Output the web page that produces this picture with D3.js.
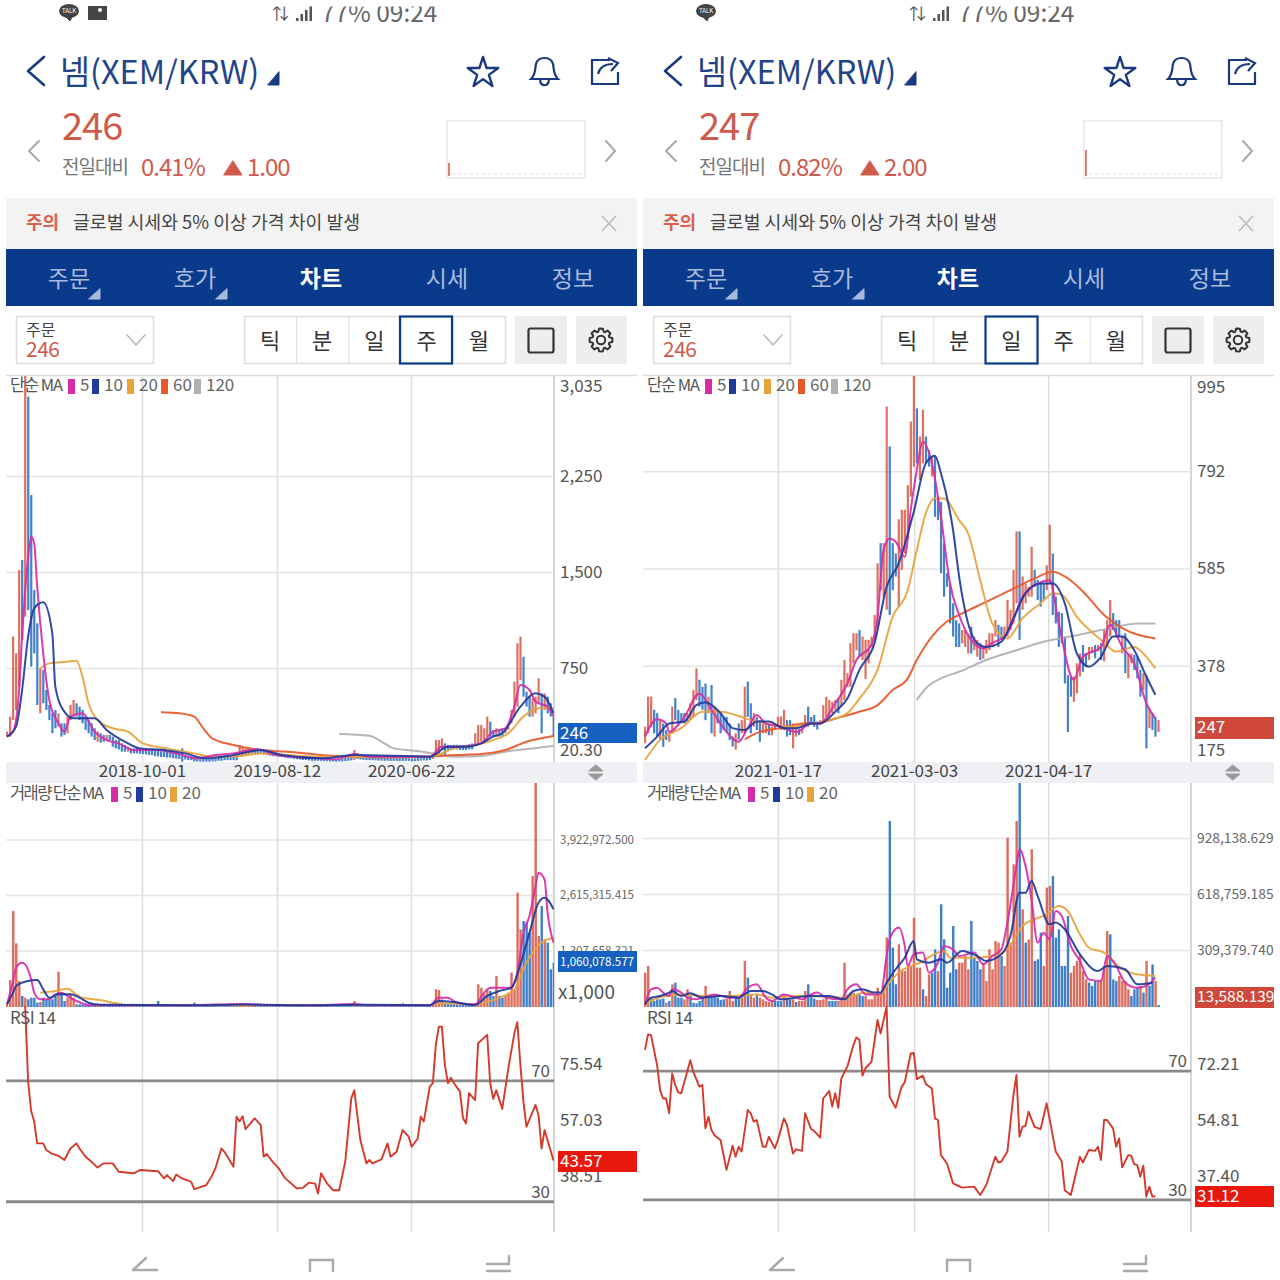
<!DOCTYPE html>
<html><head><meta charset="utf-8">
<script src="https://cdn.jsdelivr.net/npm/d3@7/dist/d3.min.js"></script>
<style>html,body{margin:0;padding:0;background:#fff}svg{display:block}text{font-family:"Noto Sans CJK KR","Noto Sans",sans-serif}</style>
</head><body><svg id="c" width="1280" height="1280"></svg>
<script>
// ===== Left phone: weekly chart =====
const lLow=[214,214,344,422,604,969,1151,1203,760,865,
461,396,474,422,344,240,279,292,214,227,
240,344,370,370,344,318,266,240,214,187,
174,167,174,187,187,135,122,114,96,96,
96,83,83,83,80,78,75,70,70,62,
60,55,55,50,50,45,42,40,18,35,
30,30,20,20,18,18,18,18,20,20,
25,25,30,30,30,30,30,70,70,70,
75,75,80,82,85,75,70,65,62,60,
58,55,50,45,45,40,38,35,32,30,
28,25,25,25,24,22,22,20,20,18,
20,20,22,25,28,31,40,35,32,30,
30,30,28,26,26,25,25,24,24,24,
24,24,24,24,22,22,24,26,28,28,
30,40,70,70,109,70,109,109,115,115,
109,109,109,115,115,148,161,174,174,214,
214,214,214,214,214,240,268,318,370,448,
656,526,448,370,370,396,474,240,422,396,370,214];
const lHigh=[253,370,995,865,1516,1594,3078,2870,2101,1359,
1099,747,734,578,461,396,422,396,318,318,
370,461,500,474,448,422,370,344,318,279,
253,240,227,227,227,214,187,187,161,148,
135,122,122,125,120,118,115,115,110,109,
112,100,100,95,92,88,85,80,122,70,
65,60,50,50,45,40,40,38,40,42,
50,50,55,55,55,60,60,148,125,120,
122,120,122,118,115,110,105,100,95,90,
85,80,78,75,72,70,65,60,58,55,
55,50,48,48,45,45,42,42,40,40,
38,42,48,55,62,109,83,70,62,57,
57,55,52,50,50,48,48,47,46,46,
46,50,48,45,42,44,46,46,48,50,
55,80,187,187,200,161,150,148,150,150,
148,148,150,155,160,240,305,305,279,370,
331,266,279,266,279,279,292,422,643,943,
995,838,565,526,513,526,669,552,552,526,474,370];
const lDir="rrrrrbrbbb brbbbbbrbb rrrbbbbbbb rbbrbbbbbb rbbbbbbbbb bbbbbbbbbb bbbbbbbbbb bbbbbbbrrr rrbbbbbbbb bbbbbbbbbb bbbbbbbbbb bbbbbrbbbb bbbbbbbbbb bbbbbbbbbb brrrrbbbbb bbbbbrrrrr bbrbbrrrrr rbbbrrrbrbbb";
const lVol=[39,612,2237,1476,589,236,196,157,196,196,
78,94,196,157,157,157,236,809,314,118,
196,275,196,39,40,35,32,30,28,25,
25,24,24,24,22,22,22,20,20,20,
20,20,20,20,20,20,20,20,20,24,
118,24,20,20,18,18,18,16,16,16,
16,16,78,24,20,20,18,18,18,16,
16,16,16,16,16,16,16,55,40,35,
30,30,28,28,25,25,22,22,20,20,
18,18,18,16,16,16,16,16,16,16,
16,16,16,16,16,16,16,16,16,16,
16,16,16,16,24,118,40,30,24,20,
20,18,18,16,16,16,16,16,16,16,
16,63,30,24,20,18,18,18,20,22,
24,39,393,377,157,79,63,55,47,40,
40,40,40,40,50,63,510,432,275,393,
353,236,707,236,196,236,314,785,393,2669,
1806,2002,1963,1727,3062,5260,1649,2355,1570,1492,864,1021];
const lMa5=[[0,214],[2,253],[4,578],[5,995],[7,1620],[8,1776],[9,1724],[10,1385],[12,865],[14,500],[17,318],[19,253],[21,370],[25,396],[29,253],[33,187],[37,161],[42,109],[50,109],[56,83],[63,44],[69,70],[75,83],[83,115],[89,70],[97,52],[104,44],[109,36],[115,78],[120,57],[140,57],[144,135],[150,135],[157,161],[161,253],[165,279],[168,448],[170,617],[173,578],[175,487],[179,448],[181,370]];
const lMa10=[[0,214],[3,292],[5,578],[7,995],[9,1216],[12,1263],[15,1021],[16,604],[19,409],[22,357],[29,357],[33,266],[39,174],[44,122],[52,109],[59,83],[66,44],[75,70],[84,109],[91,70],[104,44],[115,70],[140,57],[146,135],[152,135],[157,161],[161,214],[164,240],[170,448],[175,552],[178,526],[181,396]];
const lMa20=[[11,747],[14,786],[20,799],[23,807],[25,682],[27,474],[30,344],[35,279],[40,253],[45,161],[53,122],[62,83],[68,57],[77,62],[84,83],[93,70],[104,57],[140,57],[148,122],[155,148],[161,187],[166,240],[171,370],[176,435],[181,435]];
const lMa60=[[51,404],[57,396],[62,370],[65,279],[68,200],[75,148],[84,109],[93,96],[104,70],[115,57],[126,52],[140,57],[148,70],[157,78],[165,109],[172,174],[181,219]];
const lMa120=[[110,234],[120,221],[125,161],[128,122],[135,104],[141,83],[148,57],[157,62],[165,96],[174,122],[181,141]];
const lVolMa5=[[0,39],[2,589],[3,903],[5,1020],[6,981],[8,628],[9,314],[11,157],[14,157],[16,275],[18,314],[20,236],[23,118],[27,24],[31,16],[60,16],[78,50],[85,25],[100,16],[115,45],[120,20],[140,20],[143,196],[146,196],[149,78],[155,39],[158,314],[160,432],[164,432],[167,432],[169,785],[171,1727],[173,2120],[175,2826],[176,3140],[178,2983],[179,2198],[181,1492]];
const lVolMa10=[[0,39],[2,314],[3,471],[7,589],[10,612],[12,393],[14,196],[17,275],[21,275],[24,196],[27,78],[31,31],[60,16],[80,35],[100,16],[118,30],[140,16],[143,118],[148,94],[155,24],[159,236],[163,353],[167,432],[170,981],[173,1727],[176,2434],[178,2551],[181,2277]];
const lVolMa20=[[11,314],[16,353],[20,408],[23,275],[25,196],[31,141],[36,63],[40,16],[60,16],[80,20],[100,16],[140,24],[143,63],[154,39],[163,196],[168,393],[172,1020],[177,1492],[181,1609]];
const lRsi=[[6,95],[7,69.7],[8,60],[9,56.5],[10,49.3],[12,49.3],[13,47.1],[15,45.8],[17,45.2],[19,43.8],[21,47.6],[23,49.3],[24,47.6],[26,44.9],[28,43.2],[30,41.3],[32,42.7],[35,42.7],[37,39.9],[42,39.4],[44,40.5],[50,40.1],[52,37.7],[53,38.8],[55,36.8],[56,39],[58,37.7],[61,36.6],[62,34.2],[66,35.5],[68,38.8],[69,41],[71,47.6],[72,46.5],[75,41.6],[76,58.1],[77,56.5],[78,58.3],[79,54],[82,57.6],[84,55.4],[85,44.9],[86,45.8],[88,43.2],[90,41],[92,37.9],[96,34.4],[98,34.6],[100,36.3],[102,36],[103,32.7],[104,39.4],[106,36],[108,33.8],[110,33.8],[112,43.2],[114,64.2],[115,66.9],[117,50.4],[119,42.7],[120,43.8],[121,42.7],[124,44],[126,49.3],[127,44.9],[129,46.5],[131,53.7],[133,51.5],[134,48.2],[136,50.9],[137,58.1],[138,56.5],[140,68.1],[141,69.2],[142,81.9],[143,87.9],[144,87.9],[145,75.2],[146,69.2],[147,71],[148,69.2],[150,66.4],[151,57.6],[152,55.9],[153,65.9],[155,63.6],[156,82.4],[159,85.2],[160,69.2],[161,64],[162,66.9],[164,60.7],[166,74.1],[168,85.7],[169,89.4],[170,75.2],[171,63.1],[172,54.8],[175,62],[176,58.7],[177,47.6],[178,53.7],[181,43.57]];
const lPriceTicks=[20.3,750,1500,2250,3035];
const lPriceLabels=["20.30","750","1,500","2,250","3,035"];
const lVolTicks=[1307.658,2615.315,3922.972];
const lVolLabels=["1,307,658.321","2,615,315.415","3,922,972.500"];
const lRsiTicks=[38.51,57.03,75.54];
const lRsiLabels=["38.51","57.03","75.54"];
const lDateIdx=[44.7,89.4,133.8];
const lDateLabels=["2018-10-01","2019-08-12","2020-06-22"];

// ===== Right phone: daily chart =====
const rLow=[213,234,248,234,227,220,205,220,216,234,
262,255,255,255,255,262,269,305,291,284,
262,277,234,227,255,234,241,234,220,206,
199,220,234,234,269,234,248,241,216,234,
234,230,230,241,248,241,241,227,230,202,
227,230,234,248,248,255,248,242,252,255,
269,269,277,284,277,291,305,333,333,383,
411,397,390,350,383,418,433,461,539,525,
497,486,539,568,504,582,617,653,738,802,
809,773,809,809,802,781,695,688,575,525,
546,468,440,418,418,426,418,404,404,411,
397,390,393,404,411,418,440,418,433,440,
440,454,468,511,433,497,511,525,525,546,
518,504,518,539,553,486,468,418,426,340,
237,312,301,319,355,365,376,390,404,394,
408,390,387,418,440,454,440,440,404,362,
351,383,369,351,312,326,202,245,241,227,237];
const rHigh=[248,312,312,284,277,262,255,241,234,291,
309,284,277,277,277,298,326,372,348,333,
340,312,337,291,284,277,269,269,255,227,
234,255,262,333,344,298,277,269,262,255,
255,252,248,255,269,270,284,262,262,255,
248,244,255,273,291,269,273,259,262,294,
312,305,301,305,309,348,390,362,426,447,
447,454,440,433,433,440,486,596,639,639,
930,845,639,617,690,710,710,762,898,1010,
926,866,923,866,837,823,823,738,727,639,
575,553,511,475,468,454,454,447,461,440,
433,426,418,433,447,447,475,465,461,461,
518,497,582,664,664,568,553,546,631,582,
561,553,553,592,678,617,525,493,490,440,
358,355,355,383,404,422,404,418,418,422,
422,426,454,475,518,490,475,475,440,447,
404,404,401,397,369,362,358,287,277,269,262];
const rDir="rrrbbrbbrr bbbbrrrrbb brbrbbbbbb rbrrbbrbbr rbrrrrrbbr rbrrbbbbrr rrrrbrrrrr rbrrrrrrbr rbbbrrrrrr brrbbrbbbb bbbbbrrrbr rbrrrrrbbr rrrrbrrrrb bbbrrbbbbb bbrrrbbrrb rbrrrbbbrb rrbbbrbrbbr";
const rVol=[184,221,46,28,37,37,41,18,28,120,
129,46,46,37,92,55,18,15,28,46,
111,55,55,55,46,33,37,41,83,28,
55,46,46,249,157,64,46,64,46,37,
28,22,28,28,28,28,64,37,37,37,
22,28,28,83,120,55,41,33,33,37,
46,28,28,28,28,46,239,64,74,74,
64,64,55,55,37,37,55,101,55,111,
378,1022,322,120,341,193,193,212,221,488,
212,212,92,55,175,184,313,193,562,368,
101,184,442,203,239,239,276,203,470,267,
249,203,239,138,313,203,359,350,276,221,
930,350,783,1022,1234,534,350,368,866,249,
258,405,221,654,663,718,378,424,221,221,
497,184,221,249,286,193,147,129,111,138,
138,147,221,414,396,147,138,166,138,138,
92,55,92,101,111,74,249,111,230,138,6];
const rVolDir="rrbbbbbrbr bbbrrbbbbb rbbbbbbrrr bbrrbrrbrr rrrbbbrbbr brrrbbbrrr rbbbrrrrrr rbbrrrrrrr rbbbrrrrrr rrbrrbbrbb bbbbrrrrbb bbrrrrrrbr rrrrbrbrrb bbrrrbbbbb brrrrrrbbb rrrrbbbrrr rbbbrbrbbr".replace(/ /g,"");
const rMa5=[[0,227],[4,264],[7,255],[8,237],[13,269],[18,319],[22,284],[27,237],[31,216],[34,245],[37,273],[40,255],[45,248],[50,237],[55,255],[58,255],[63,298],[67,340],[70,390],[75,422],[77,482],[79,624],[81,649],[83,642],[86,610],[88,710],[90,795],[92,855],[95,809],[98,695],[101,553],[104,486],[108,433],[112,415],[115,426],[120,447],[125,525],[130,553],[134,560],[137,468],[142,348],[145,397],[151,418],[154,465],[158,418],[162,383],[166,298],[169,266]];
const rMa10=[[0,202],[4,227],[8,255],[13,259],[17,294],[20,300],[25,277],[29,245],[33,241],[37,259],[41,259],[46,245],[50,245],[55,255],[58,255],[63,280],[67,308],[71,369],[76,426],[80,546],[84,596],[89,706],[93,809],[96,825],[98,788],[102,667],[104,568],[107,468],[110,426],[113,418],[118,429],[122,479],[126,532],[131,553],[135,553],[139,511],[143,404],[147,376],[151,397],[155,440],[158,440],[162,411],[166,355],[169,316]];
const rMa20=[[0,177],[5,220],[12,245],[19,280],[25,280],[30,273],[35,262],[40,255],[48,248],[56,255],[61,262],[67,277],[71,308],[77,369],[82,482],[87,539],[90,624],[93,703],[96,734],[99,734],[104,688],[107,660],[111,560],[115,468],[120,436],[125,479],[131,511],[135,532],[138,529],[143,482],[151,433],[156,408],[162,418],[165,404],[169,372]];
const rMa60=[[33,221],[38,237],[45,245],[51,254],[58,257],[65,269],[71,280],[77,294],[82,326],[87,351],[90,390],[95,440],[100,472],[104,486],[113,514],[121,539],[129,564],[135,578],[139,568],[145,536],[152,486],[158,458],[169,436]];
const rMa120=[[90,305],[93,330],[98,351],[104,365],[113,390],[123,411],[132,429],[143,443],[154,458],[163,468],[169,468]];
const rVolMa5=[[0,9],[2,92],[4,101],[6,74],[8,55],[9,92],[12,74],[14,46],[17,37],[19,46],[23,64],[28,46],[31,46],[34,101],[37,120],[40,46],[42,28],[46,64],[50,46],[52,37],[55,64],[57,74],[60,46],[65,37],[67,92],[70,120],[73,64],[78,64],[80,276],[81,368],[84,433],[86,332],[87,221],[89,286],[92,295],[94,184],[97,239],[99,332],[102,313],[104,276],[109,295],[112,230],[115,276],[118,313],[120,460],[123,774],[124,866],[126,774],[128,589],[130,350],[132,405],[134,368],[136,525],[138,497],[141,332],[144,249],[147,147],[151,138],[153,276],[156,221],[159,129],[163,101],[166,111],[169,157]];
const rVolMa10=[[0,9],[2,46],[5,55],[8,74],[9,83],[12,55],[15,70],[19,46],[25,55],[31,46],[35,83],[39,83],[42,64],[45,37],[54,55],[61,55],[66,37],[69,83],[72,92],[76,74],[78,74],[80,129],[83,203],[86,267],[89,359],[90,258],[94,239],[98,258],[100,239],[105,304],[110,276],[113,249],[118,286],[121,387],[124,626],[126,626],[128,691],[130,608],[134,451],[136,461],[139,424],[144,286],[150,193],[153,221],[159,203],[163,120],[168,129]];
const rVolMa20=[[0,9],[3,37],[7,55],[13,64],[19,55],[28,55],[37,64],[42,46],[50,55],[58,52],[66,46],[73,74],[78,55],[80,111],[84,184],[91,239],[99,304],[101,267],[109,267],[115,276],[120,313],[125,442],[133,507],[137,553],[140,525],[144,396],[147,322],[152,295],[158,203],[163,175],[169,166]];
const rRsi=[[0,76.6],[1,81.4],[2,81.2],[4,71.9],[5,64.1],[6,61.5],[7,61.5],[8,56.9],[9,69.3],[10,65.7],[11,63.4],[12,63.1],[15,73.4],[16,69.8],[18,65.2],[19,65.7],[20,52.2],[21,55.8],[22,51.7],[23,50.1],[25,48.6],[27,39.3],[29,46.8],[30,43.4],[31,46.5],[32,45],[34,57.9],[35,56.9],[36,54.3],[37,54.8],[39,46.5],[40,46.5],[41,49.6],[43,46],[44,48.6],[46,55.3],[47,53.3],[49,44.4],[50,45.7],[52,45.2],[53,56.9],[55,52],[56,51.4],[58,49.3],[59,61.5],[61,63.8],[62,59],[63,63.1],[64,58.6],[65,67.7],[67,71.4],[69,78.1],[70,80.5],[71,79.7],[72,68.6],[73,70.9],[75,72.9],[77,85.9],[78,81.7],[80,90],[81,62],[83,58.6],[85,65.2],[86,66.5],[88,75.5],[89,75.7],[90,67.5],[92,68.6],[93,66],[95,64.6],[96,55.3],[97,54.8],[98,43.9],[100,41.3],[102,35.1],[105,33.8],[109,34.1],[111,31.5],[113,34.6],[116,43.4],[117,41.6],[118,41.9],[120,45],[122,62.6],[123,68.8],[124,49.6],[125,52.7],[126,53],[127,57.4],[129,52.7],[131,52],[133,60],[136,45],[138,41.9],[139,33],[141,31.5],[144,43.4],[145,41.6],[147,45.5],[149,45.2],[150,46.5],[151,42.4],[152,54.8],[153,54.8],[155,52.2],[156,46.5],[157,49.1],[158,40.1],[160,43.9],[161,43.7],[162,41.1],[163,40.8],[164,37.2],[165,40.6],[166,31],[167,34.1],[168,31],[169,31.12]];
const rPriceTicks=[175,378,585,792,995];
const rPriceLabels=["175","378","585","792","995"];
const rVolTicks=[309.38,618.759,928.139];
const rVolLabels=["309,379.740","618,759.185","928,138.629"];
const rRsiTicks=[37.4,54.81,72.21];
const rRsiLabels=["37.40","54.81","72.21"];
const rDateIdx=[44.0,89.1,133.5];
const rDateLabels=["2021-01-17","2021-03-03","2021-04-17"];

const tabs=["주문","호가","차트","시세","정보"];
const periods=["틱","분","일","주","월"];
const maColors={ma5:"#d62ca8",ma10:"#1f3a9c",ma20:"#e8a33c",ma60:"#e8572a",ma120:"#b0b0b0"};
const RED="#d9604f",BLUE="#2f74c4",NAVY="#1a3a80";

const svg=d3.select("#c");
const line=(x,y)=>d3.line().x(d=>x(d[0])).y(d=>y(d[1]));
let clipN=0;
function clip(g,x,y,w,h){const id="cl"+(clipN++);svg.append("clipPath").attr("id",id).append("rect").attr("x",x).attr("y",y).attr("width",w).attr("height",h);return g.append("g").attr("clip-path",`url(#${id})`);}
function txt(g,x,y,s,size,fill,o={}){const t=g.append("text").attr("x",x).attr("y",y).attr("font-size",size).attr("fill",fill).text(s);for(const k in o)t.attr(k,o[k]);return t;}
function poly(g,pts,stroke,sw=2,fill="none"){g.append("path").attr("d",d3.line()(pts)+(fill!=="none"?"Z":"")).attr("fill",fill).attr("stroke",stroke).attr("stroke-width",sw).attr("stroke-linecap","round").attr("stroke-linejoin","round");}

function axes(g,y,ticks,labels){
  const inner=ticks.filter(t=>{const p=y(t);return p>y.range()[1]+6&&p<y.range()[0]-6;});
  const grid=g.append("g").attr("transform","translate(554,0)").call(d3.axisLeft(y).tickValues(inner).tickSize(548).tickFormat(""));
  grid.select(".domain").remove();grid.selectAll("line").attr("stroke","#e4e4e4").attr("stroke-width",1.5);
  return ()=>{
    const a=g.append("g").attr("transform","translate(554,0)").call(d3.axisRight(y).tickValues(ticks).tickSize(0).tickPadding(6).tickFormat((d,i)=>labels[i]));
    a.select(".domain").remove();
    a.selectAll("text").attr("font-family",'"Noto Sans CJK KR"');
    return a;
  };
}
function legend(g,x,y,label,items){
  txt(g,x,y,label.t,16.5,"#555",{"letter-spacing":label.ls});
  items.forEach(it=>{g.append("rect").attr("x",it.x).attr("y",y-12).attr("width",7).attr("height",15).attr("fill",it.c);txt(g,it.x+12,y,it.t,17,"#666");});
}
function gear(g,cx,cy){
  const pts=[];
  for(let k=0;k<8;k++){
    const a=k*Math.PI/4;
    [[-.30,11.5],[-.17,11.5],[-.13,11.5],[.17,11.5],[.30,8.8],[.48,8.8]].slice(1,6).forEach(([o,r])=>pts.push([cx+r*Math.cos(a+o),cy+r*Math.sin(a+o)]));
  }
  poly(g,pts,"#333",2);
  g.select("path:last-child").attr("d",d3.line()(pts)+"Z");
  g.append("circle").attr("cx",cx).attr("cy",cy).attr("r",4.2).attr("fill","none").attr("stroke","#333").attr("stroke-width",2);
}

function panel(dx,o){
  const g=svg.append("g").attr("transform",`translate(${dx},0)`);
  // status bar
  g.append("ellipse").attr("cx",69).attr("cy",11).attr("rx",10).attr("ry",7).attr("fill","#444");
  txt(g,62,13,"TALK",6,"#fff");
  poly(g,[[66,17],[70,21],[72,17]],"#444",1,"#444");
  if(o.img){g.append("rect").attr("x",88).attr("y",6).attr("width",19).attr("height",14).attr("fill","#444");g.append("circle").attr("cx",100).attr("cy",10).attr("r",2).attr("fill","#fff");}
  txt(g,272,20,"⇅",17,"#555");
  [0,1,2,3].forEach(i=>g.append("rect").attr("x",296+i*4.5).attr("y",18-i*4).attr("width",2.5).attr("height",3+i*4).attr("fill","#555"));
  txt(g,321,21.5,"77% 09:24",24.5,"#666");
  g.append("rect").attr("x",260).attr("y",0).attr("width",190).attr("height",6.5).attr("fill","#fff");
  // title
  poly(g,[[44,57],[28,71],[44,85]],NAVY,2.6);
  txt(g,60,84,"넴(XEM/KRW)",32.5,"#1f4488");
  poly(g,[[268,85],[279,85],[279,72]],NAVY,1,NAVY);
  g.append("path").attr("transform","translate(483,73)").attr("d",d3.symbol(d3.symbolStar,290)()).attr("fill","none").attr("stroke",NAVY).attr("stroke-width",2.4).attr("stroke-linejoin","round");
  g.append("path").attr("d","M531,79 C536,74 535,68 536,64 C538,56 551,56 553,64 C554,68 553,74 558,79 Z M540,80 C541,87 548,87 549,80").attr("fill","none").attr("stroke",NAVY).attr("stroke-width",2.2);
  g.append("path").attr("d","M610,60 L592,60 L592,84 L618,84 L618,72 M598,74 C600,66 606,64 613,64 M608,58 L618,63 L611,71").attr("fill","none").attr("stroke",NAVY).attr("stroke-width",2.2);
  // quote
  txt(g,62,140,o.price,38,"#cf5a4c",{"letter-spacing":"-1"});
  poly(g,[[39,141],[29,151],[39,161]],"#aaa",2);
  poly(g,[[606,141],[615,151],[606,161]],"#aaa",2);
  txt(g,62,174,"전일대비",19,"#777",{"letter-spacing":"-1"});
  txt(g,141,176,o.pct,24,"#cf5a4c",{"letter-spacing":"-1"});
  poly(g,[[224,175],[242,175],[233,161]],"#cf5a4c",1,"#cf5a4c");
  txt(g,247,176,o.chg,24,"#cf5a4c",{"letter-spacing":"-1"});
  g.append("rect").attr("x",447).attr("y",121).attr("width",138).attr("height",57).attr("fill","#fff").attr("stroke","#e6e6e6").attr("stroke-width",1.5);
  g.append("line").attr("x1",452).attr("x2",584).attr("y1",174).attr("y2",174).attr("stroke","#ddd").attr("stroke-dasharray","3 3");
  g.append("line").attr("x1",449).attr("x2",449).attr("y1",o.mini).attr("y2",176).attr("stroke","#d9604f").attr("stroke-width",1.6);
  // notice
  g.append("rect").attr("x",6).attr("y",198).attr("width",631).attr("height",51).attr("fill","#f3f3f3");
  txt(g,26,229,"주의",18,"#d9604f",{"font-weight":700});
  txt(g,73,229,"글로벌 시세와 5% 이상 가격 차이 발생",18.3,"#444");
  g.append("path").attr("d","M602,216 L616,231 M616,216 L602,231").attr("stroke","#bbb").attr("stroke-width",1.6);
  // tabs
  g.append("rect").attr("x",6).attr("y",249).attr("width",631).attr("height",57).attr("fill","#0a3a8c");
  tabs.forEach((t,i)=>txt(g,69+126*i,287,t,23,i===2?"#fff":"#a9bbdd",{"text-anchor":"middle","font-weight":i===2?700:400}));
  [[89,100],[216,227]].forEach(p=>poly(g,[[p[0],299],[p[1],299],[p[1],289]],"#a9bbdd",1,"#a9bbdd"));
  // order box and period buttons
  g.append("rect").attr("x",16.5).attr("y",316.5).attr("width",137).attr("height",47).attr("fill","#fff").attr("stroke","#ddd").attr("stroke-width",1.5);
  txt(g,26,336,"주문",16,"#444");
  txt(g,26,357,"246",21,"#cf5a4c",{"letter-spacing":"-0.5"});
  poly(g,[[127,335],[136,345],[145,335]],"#bbb",1.6);
  g.append("rect").attr("x",244.5).attr("y",316.5).attr("width",261).attr("height",47).attr("fill","#fff").attr("stroke","#ddd").attr("stroke-width",1.5);
  periods.forEach((p,i)=>{
    const x=244.5+52.2*i;
    if(i)g.append("line").attr("x1",x).attr("x2",x).attr("y1",317).attr("y2",363).attr("stroke","#ddd");
    txt(g,x+25.5,349,p,22,"#333",{"text-anchor":"middle"});
  });
  g.append("rect").attr("x",o.selX).attr("y",316.5).attr("width",52).attr("height",47).attr("fill","none").attr("stroke","#0a3a8c").attr("stroke-width",2.2);
  g.append("rect").attr("x",515).attr("y",316).attr("width",52).attr("height",48).attr("fill","#eee");
  g.append("rect").attr("x",576).attr("y",316).attr("width",51).attr("height",48).attr("fill","#eee");
  g.append("rect").attr("x",528.5).attr("y",328.5).attr("width",25).attr("height",24).attr("rx",2).attr("fill","none").attr("stroke","#333").attr("stroke-width",2.2);
  gear(g,601,340);

  // chart frame
  g.append("line").attr("x1",6).attr("x2",637).attr("y1",375.5).attr("y2",375.5).attr("stroke","#ddd").attr("stroke-width",1.5);
  const x=d3.scaleLinear().domain([0,o.n-1]).range([o.x0,o.x0+3.02*(o.n-1)]);
  const vg1=g.append("g").attr("transform","translate(0,762)").call(d3.axisBottom(x).tickValues(o.dateIdx).tickSize(-386).tickFormat(""));
  const vg2=g.append("g").attr("transform","translate(0,1232)").call(d3.axisBottom(x).tickValues(o.dateIdx).tickSize(-449).tickFormat(""));
  [vg1,vg2].forEach(v=>{v.select(".domain").remove();v.selectAll("line").attr("stroke","#dcdcdc").attr("stroke-width",1.5);});
  g.append("line").attr("x1",554).attr("x2",554).attr("y1",376).attr("y2",1232).attr("stroke","#c8c8c8").attr("stroke-width",1.5);

  // price
  const yP=d3.scaleLinear().domain(o.pDomain).range([o.pRange[0],o.pRange[1]]);
  const lblP=axes(g,yP,o.pTicks,o.pLabels);
  const pc=clip(g,6,376,548,386);
  pc.selectAll("rect.c").data(o.low).join("rect").attr("x",(d,i)=>x(i)-1).attr("width",2.2)
    .attr("y",(d,i)=>yP(o.high[i])).attr("height",(d,i)=>Math.max(1,yP(d)-yP(o.high[i])))
    .attr("fill",(d,i)=>o.dir[i]==="r"?RED:BLUE).attr("opacity",.9);
  [["ma120",o.ma120],["ma60",o.ma60],["ma20",o.ma20],["ma5",o.ma5],["ma10",o.ma10]].forEach(([k,d])=>
    pc.append("path").attr("d",line(x,yP).curve(d3.curveMonotoneX)(d)).attr("fill","none").attr("stroke",maColors[k]).attr("stroke-width",2).attr("opacity",.92));
  const a=lblP(); a.selectAll("text").attr("font-size",17).attr("fill","#555");
  a.selectAll(".tick text").attr("dy",(d,i)=>i===0?"-0.35em":i===o.pTicks.length-1?"0.95em":"0.32em");
  legend(g,10,391,{t:"단순 MA",ls:"-1.1"},[{x:68,c:maColors.ma5,t:"5"},{x:92,c:maColors.ma10,t:"10"},{x:127,c:maColors.ma20,t:"20"},{x:161,c:maColors.ma60,t:"60"},{x:194,c:maColors.ma120,t:"120"}]);
  // date band
  g.append("rect").attr("x",6).attr("y",762).attr("width",631).attr("height",21).attr("fill","#eff0f4");
  const da=g.append("g").attr("transform","translate(0,762)").call(d3.axisBottom(x).tickValues(o.dateIdx).tickSize(0).tickPadding(3).tickFormat((d,i)=>o.dateLabels[i]));
  da.select(".domain").remove();da.selectAll("text").attr("font-size",17).attr("fill","#444").attr("font-family",'"Noto Sans CJK KR"');
  poly(g,[[589,771],[603,771],[596,765]],"#999",1,"#999");poly(g,[[589,774],[603,774],[596,780]],"#999",1,"#999");
  // price tag
  g.append("rect").attr("x",558).attr("y",o.pTag[0]).attr("width",79).attr("height",o.pTag[1]).attr("fill",o.pTag[2]);
  txt(g,560,o.pTag[0]+16,o.price,17,"#fff");

  // volume
  const yV=d3.scaleLinear().domain([0,o.vMax]).range([1006,783]);
  const lblV=axes(g,yV,o.vTicks,o.vLabels);
  const vc=clip(g,6,783,548,224);
  vc.selectAll("rect.v").data(o.vol).join("rect").attr("x",(d,i)=>x(i)-1).attr("width",2.4)
    .attr("y",d=>yV(d)).attr("height",d=>1007-yV(d)).attr("fill",(d,i)=>o.vDir[i]==="r"?RED:BLUE).attr("opacity",.92);
  [["ma20",o.vMa20],["ma5",o.vMa5],["ma10",o.vMa10]].forEach(([k,d])=>
    vc.append("path").attr("d",line(x,yV).curve(d3.curveMonotoneX)(d)).attr("fill","none").attr("stroke",maColors[k]).attr("stroke-width",2).attr("opacity",.92));
  const av=lblV(); av.selectAll("text").attr("font-size",o.vFs).attr("fill","#666");
  legend(g,10,799,{t:"거래량 단순 MA",ls:"-1.6"},[{x:111,c:maColors.ma5,t:"5"},{x:136,c:maColors.ma10,t:"10"},{x:170,c:maColors.ma20,t:"20"}]);
  g.append("rect").attr("x",558).attr("y",o.vTag[0]).attr("width",79).attr("height",21).attr("fill",o.vTag[1]);
  txt(g,560,o.vTag[0]+15,o.vTagText,o.vTagFs,"#fff");
  if(o.unit)txt(g,558,999,o.unit,19,"#555");

  // RSI
  const yR=d3.scaleLinear().domain(o.rDomain).range([1176,1120]);
  const lblR=axes(g,yR,o.rTicks,o.rLabels);
  [70,30].forEach(l=>{
    g.append("line").attr("x1",6).attr("x2",554).attr("y1",yR(l)).attr("y2",yR(l)).attr("stroke","#8a8a8a").attr("stroke-width",2.8);
    txt(g,550,yR(l)-4,String(l),17,"#555",{"text-anchor":"end"});
  });
  const rc=clip(g,6,1006,548,226);
  rc.append("path").attr("d",line(x,yR)(o.rsi)).attr("fill","none").attr("stroke","#d33a2c").attr("stroke-width",1.9).attr("stroke-linejoin","round");
  const ar=lblR(); ar.selectAll("text").attr("font-size",17).attr("fill","#555");
  txt(g,10,1024,"RSI 14",17,"#555",{"letter-spacing":"-0.5"});
  g.append("rect").attr("x",558).attr("y",o.rTag).attr("width",79).attr("height",21).attr("fill","#e8180c");
  txt(g,560,o.rTag+16,o.rsiText,17,"#fff");
  // soft keys
  poly(g,[[133,1270],[157,1270]],"#aaa",2.4);poly(g,[[133,1270],[146,1258]],"#aaa",2.4);
  g.append("path").attr("d","M310,1272 L310,1260 L333,1260 L333,1272").attr("fill","none").attr("stroke","#aaa").attr("stroke-width",2.4);
  poly(g,[[487,1271],[510,1271]],"#aaa",2.4);poly(g,[[487,1264],[509,1264],[509,1256]],"#aaa",2.4);
}

panel(0,{img:true,price:"246",pct:"0.41%",chg:"1.00",mini:163,selX:400,x0:7,n:182,low:lLow,high:lHigh,dir:lDir.replace(/ /g,""),
  ma5:lMa5,ma10:lMa10,ma20:lMa20,ma60:lMa60,ma120:lMa120,dateIdx:lDateIdx,dateLabels:lDateLabels,
  pDomain:[0,3035],pRange:[764,375.5],pTicks:lPriceTicks,pLabels:lPriceLabels,pTag:[723,20,"#1560c0"],
  vol:lVol,vDir:lDir.replace(/ /g,""),vMax:5254,vTicks:lVolTicks,vLabels:lVolLabels,vFs:11.6,vTag:[951,"#1560c0"],vTagText:"1,060,078.577",vTagFs:11.6,unit:"x1,000",
  vMa5:lVolMa5,vMa10:lVolMa10,vMa20:lVolMa20,rsi:lRsi,rDomain:[38.51,57.03],rTicks:lRsiTicks,rLabels:lRsiLabels,rTag:1151,rsiText:"43.57"});
panel(637,{img:false,price:"247",pct:"0.82%",chg:"2.00",mini:150,selX:348.5,x0:8,n:171,low:rLow,high:rHigh,dir:rDir.replace(/ /g,""),
  ma5:rMa5,ma10:rMa10,ma20:rMa20,ma60:rMa60,ma120:rMa120,dateIdx:rDateIdx,dateLabels:rDateLabels,
  pDomain:[175,995],pRange:[761,376],pTicks:rPriceTicks,pLabels:rPriceLabels,pTag:[717,22,"#d0483c"],
  vol:rVol,vDir:rVolDir,vMax:1232,vTicks:rVolTicks,vLabels:rVolLabels,vFs:13.8,vTag:[987,"#d0483c"],vTagText:"13,588.139",vTagFs:15.5,unit:null,
  vMa5:rVolMa5,vMa10:rVolMa10,vMa20:rVolMa20,rsi:rRsi,rDomain:[37.4,54.81],rTicks:rRsiTicks,rLabels:rRsiLabels,rTag:1186,rsiText:"31.12"});
</script></body></html>
